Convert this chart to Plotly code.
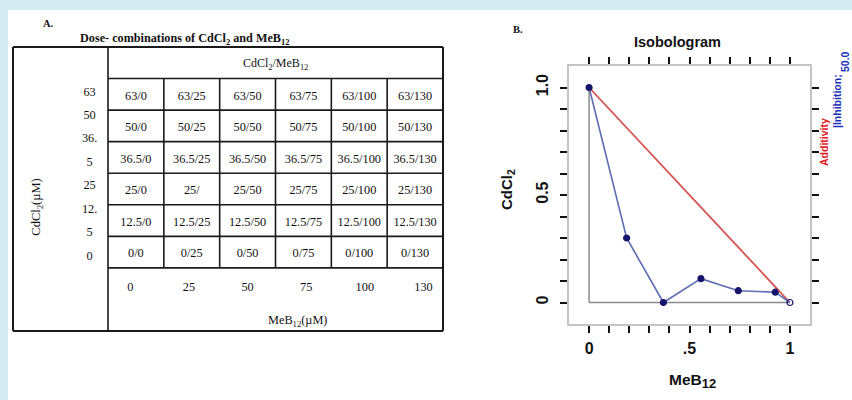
import plotly.graph_objects as go

# ---------------- data ----------------
cdcl2_doses = [63, 50, 36.5, 25, 12.5, 0]          # table rows (µM)
meb_doses = [0, 25, 50, 75, 100, 130]               # table columns (µM)
row_label_lines = ["63", "50", "36.", "5", "25", "12.", "5", "0"]  # wrapped row labels as printed
odd_cells = {(3, 1): "25/"}                          # cell printed incompletely in the source

iso_x = [0, 0.187, 0.37, 0.557, 0.743, 0.927, 1.0]  # MeB12 normalised dose
iso_y = [1.0, 0.30, 0.0, 0.111, 0.055, 0.048, 0.0]  # CdCl2 normalised dose
add_x = [0, 1]
add_y = [1, 0]
tick_vals = [0, 0.1, 0.2, 0.3, 0.4, 0.5, 0.6, 0.7, 0.8, 0.9, 1.0]
x_tick_text = ["0", "", "", "", "", ".5", "", "", "", "", "1"]
y_tick_text = ["0", "", "", "", "", "0.5", "", "", "", "", "1.0"]

# ---------------- layout helpers ----------------
W, H = 852, 400
def fx(p): return p / W
def fy(p): return 1 - p / H

SERIF = "Liberation Serif"
SANS = "Liberation Sans"

n_rows, n_cols = len(cdcl2_doses), len(meb_doses)
# table geometry in pixels
T_L, T_DIV, T_R = 13, 108, 443
T_T, T_B = 47, 331
ux = (T_R - T_DIV) / n_cols
total_rows = 1 + n_rows + 2
uy = (T_B - T_T) / total_rows
x_left = -(T_DIV - T_L) / ux
pad = 0.1

fig = go.Figure()

# ---------------- table (axes x2/y2) ----------------
def seg(xs, ys, a, b):
    xs += [a[0], b[0], None]
    ys += [a[1], b[1], None]

ox, oy = [], []
seg(ox, oy, (x_left, -1), (n_cols, -1))
seg(ox, oy, (n_cols, -1), (n_cols, n_rows + 2))
seg(ox, oy, (n_cols, n_rows + 2), (x_left, n_rows + 2))
seg(ox, oy, (x_left, n_rows + 2), (x_left, -1))
fig.add_trace(go.Scatter(x=ox, y=oy, mode="lines", xaxis="x2", yaxis="y2",
                         line=dict(color="#1a1a1a", width=2), hoverinfo="skip", showlegend=False))

ix, iy = [], []
seg(ix, iy, (0, -1), (0, n_rows + 2))
for k in range(n_rows + 1):
    seg(ix, iy, (0, k), (n_cols, k))
for k in range(1, n_cols):
    seg(ix, iy, (k, 0), (k, n_rows))
fig.add_trace(go.Scatter(x=ix, y=iy, mode="lines", xaxis="x2", yaxis="y2",
                         line=dict(color="#1a1a1a", width=1.6), hoverinfo="skip", showlegend=False))

def fmt(v):
    return str(int(v)) if float(v).is_integer() else str(v)

cx, cy, ct = [], [], []
for i, c in enumerate(cdcl2_doses):
    for j, m in enumerate(meb_doses):
        cx.append(j + 0.5)
        cy.append(i + 0.57)
        ct.append(odd_cells.get((i, j), f"{fmt(c)}/{fmt(m)}"))
fig.add_trace(go.Scatter(x=cx, y=cy, text=ct, mode="text", xaxis="x2", yaxis="y2",
                         textfont=dict(family=SERIF, size=12.3, color="#111"),
                         hoverinfo="skip", showlegend=False, cliponaxis=False))

# row labels (wrapped as in the source)
nl = len(row_label_lines)
rl_y = [0.44 + k * (5.64 - 0.44) / (nl - 1) for k in range(nl)]
fig.add_trace(go.Scatter(x=[-0.33] * nl, y=rl_y, text=row_label_lines, mode="text",
                         xaxis="x2", yaxis="y2",
                         textfont=dict(family=SERIF, size=12.3, color="#111"),
                         hoverinfo="skip", showlegend=False, cliponaxis=False))

# column labels at the bottom
fig.add_trace(go.Scatter(x=[0.40 + j * 1.05 for j in range(n_cols)], y=[n_rows + 0.62] * n_cols,
                         text=[fmt(m) for m in meb_doses], mode="text", xaxis="x2", yaxis="y2",
                         textfont=dict(family=SERIF, size=12.3, color="#111"),
                         hoverinfo="skip", showlegend=False, cliponaxis=False))

ann = []
def A(x, y, text, size, color="#111", family=SERIF, angle=0, xref="paper", yref="paper", xanchor="center"):
    ann.append(dict(x=x, y=y, xref=xref, yref=yref, text=text, showarrow=False,
                    font=dict(family=family, size=size, color=color), textangle=angle,
                    xanchor=xanchor, yanchor="middle"))

A(3.0, -0.45, "CdCl<sub>2</sub>/MeB<sub>12</sub>", 12, xref="x2", yref="y2")
A(3.40, n_rows + 1.68, "MeB<sub>12</sub>(µM)", 12.3, xref="x2", yref="y2")
A(-1.27, 4.09, "CdCl<sub>2</sub>(µM)", 12.5, xref="x2", yref="y2", angle=-90)
A(fx(185), fy(39), "<b>Dose- combinations of CdCl<sub>2</sub> and MeB<sub>12</sub></b>", 12.2)
A(fx(48), fy(23), "<b>A.</b>", 10.5)
A(fx(518), fy(30), "<b>B.</b>", 10.5)

# ---------------- isobologram ----------------
fig.add_trace(go.Scatter(x=[0, 0, None, 0, 1], y=[1, 0, None, 0, 0], mode="lines",
                         line=dict(color="#8a8a8a", width=1.5), hoverinfo="skip", showlegend=False))
fig.add_trace(go.Scatter(x=add_x, y=add_y, mode="lines", line=dict(color="#d4524e", width=1.8),
                         showlegend=False, name="Additivity"))
fig.add_trace(go.Scatter(x=iso_x, y=iso_y, mode="lines+markers",
                         line=dict(color="#5d6db2", width=1.6),
                         marker=dict(color="#15156e", size=6,
                                     symbol=["circle"] * (len(iso_x) - 1) + ["circle-open"],
                                     line=dict(color="#15156e", width=1.2)),
                         showlegend=False, name="Inhibition 50.0", cliponaxis=False))

A(fx(677), fy(42), "<b>Isobologram</b>", 14.5, family=SANS)
A(fx(507), fy(190), "<b>CdCl<sub>2</sub></b>", 15, family=SANS, angle=-90)
A(fx(692), fy(381), "<b>MeB<sub><span style='font-size:13px'>12</span></sub></b>", 15.5, family=SANS)
A(fx(824), fy(142), "<b>Additivity</b>", 10.5, color="#e0201e", family=SANS, angle=-90)
A(fx(837), fy(101), "<b>|Inhibition;</b>", 10.5, color="#1b2fb8", family=SANS, angle=-90)
A(fx(845), fy(62), "<b>50.0</b>", 10.5, color="#1b2fb8", family=SANS, angle=-90)

axis_common = dict(range=[-0.1, 1.1], tickvals=tick_vals, showgrid=False, zeroline=False,
                   showline=True, linecolor="#c4c4c4", linewidth=2, mirror="ticks",
                   ticks="outside", ticklen=7, tickwidth=2, tickcolor="#111",
                   tickfont=dict(family=SANS, size=16, color="#111"), fixedrange=True)

fig.update_layout(
    width=W, height=H, margin=dict(l=0, r=0, t=0, b=0),
    paper_bgcolor="#d7ebf2", plot_bgcolor="rgba(0,0,0,0)",
    xaxis=dict(domain=[fx(569), fx(810)], ticktext=[f"<b>{t}</b>" if t else "" for t in x_tick_text],
               ticklabelstandoff=2, anchor="y", **axis_common),
    yaxis=dict(domain=[fy(324), fy(66)], ticktext=[f"<b>{t}</b>" if t else "" for t in y_tick_text],
               tickangle=-90, ticklabelstandoff=6, anchor="x", **axis_common),
    xaxis2=dict(domain=[fx(T_L - pad * ux), fx(T_R + pad * ux)], range=[x_left - pad, n_cols + pad],
                visible=False, anchor="y2", fixedrange=True),
    yaxis2=dict(domain=[fy(T_B + pad * uy), fy(T_T - pad * uy)], range=[n_rows + 2 + pad, -1 - pad],
                visible=False, anchor="x2", fixedrange=True),
    shapes=[dict(type="rect", xref="paper", yref="paper", x0=fx(8), x1=1, y0=0, y1=fy(10),
                 fillcolor="white", line=dict(width=0), layer="below")],
    annotations=ann,
)

fig.write_html("out.html", config={"displayModeBar": False},
               post_script="document.body.style.margin='0';document.body.style.overflow='hidden';")
